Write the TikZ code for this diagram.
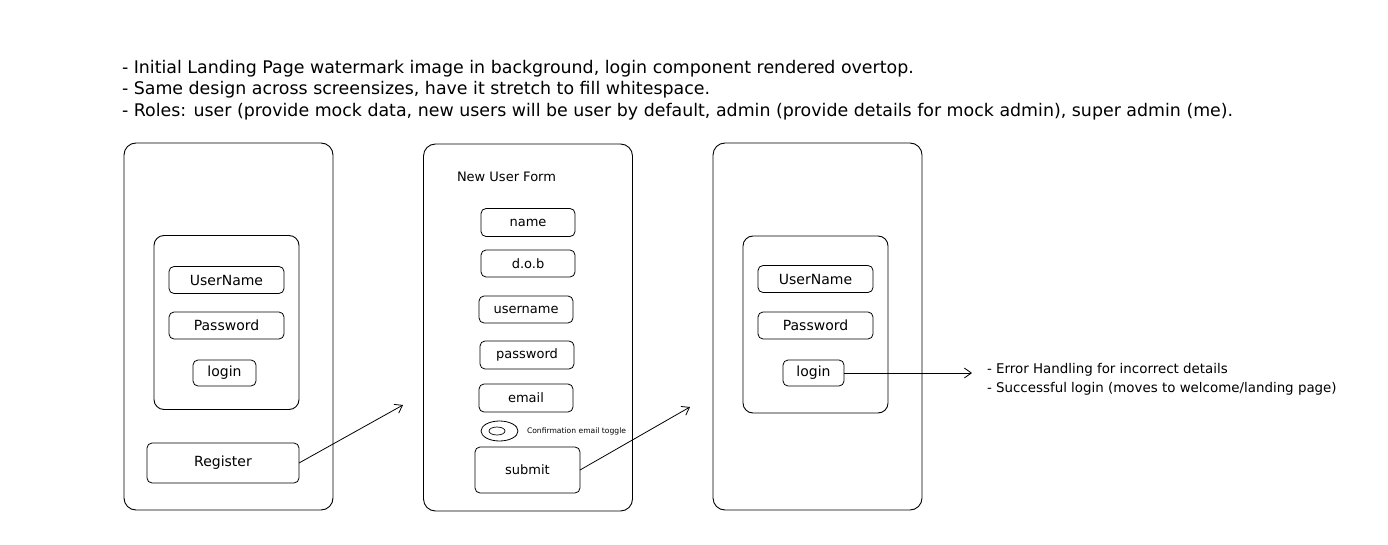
\documentclass[tikz,border=0pt]{standalone}
\usepackage{fontspec}
\setmainfont{DejaVu Sans}
\usetikzlibrary{positioning,arrows.meta,shapes.geometric}

\begin{document}
\begin{tikzpicture}[x=1pt, y=-1pt,
    every node/.style={inner sep=0pt, outer sep=0pt},
    screen/.style={rectangle, draw, rounded corners=12pt, line width=0.9pt, minimum width=209pt, minimum height=367pt},
    panel/.style={rectangle, draw, rounded corners=10pt, line width=0.9pt, minimum width=145pt, minimum height=174pt},
    field/.style={rectangle, draw, rounded corners=5pt, line width=0.8pt, minimum width=115pt, minimum height=27pt, font=\fontsize{14}{16}\selectfont},
    formfield/.style={field, minimum width=94pt, minimum height=28pt, font=\fontsize{13}{15}\selectfont},
    flow/.style={-{Straight Barb[length=7pt,width=10pt]}, line width=0.8pt}
]
    \useasboundingbox (0,0) rectangle (1388,545);

    \node[anchor=north west, align=left, font=\fontsize{17.4}{21.5}\selectfont] (notes) at (122,60)
        {- Initial Landing Page watermark image in background, login component rendered overtop.\\
         - Same design across screensizes, have it stretch to fill whitespace.\\
         - Roles: user (provide mock data, new users will be user by default, admin (provide details for mock admin), super admin (me).};

    % landing page
    \node[screen] (landing) at (228.5,326.5) {};
    \node[panel] (landing panel) at (226.5,322.5) {};
    \node[field] (landing user) at (226.5,280) {UserName};
    \node[field] (landing pass) at (226.5,325.5) {Password};
    \node[field, minimum width=63pt, minimum height=26pt] (landing login) at (224.5,373) {login};
    \node[field, minimum width=152pt, minimum height=40pt] (register) at (223,463) {Register};
    \coordinate (to form) at (403,405);
    \draw[flow] (register.east) -- (to form);

    % new user form
    \node[screen] (form) at (528,327.5) {};
    \node[anchor=west, font=\fontsize{13}{15}\selectfont] (form title) at (457,177) {New User Form};
    \node[formfield] (form name) at (528,222.5) {name};
    \node[formfield, minimum height=27pt] (form dob) at (528,263.5) {d.o.b};
    \node[formfield, minimum height=27pt] (form username) at (526,309.5) {username};
    \node[formfield] (form password) at (527,355) {password};
    \node[formfield] (form email) at (526,398) {email};
    \node[ellipse, draw, line width=0.8pt, minimum width=37pt, minimum height=20pt] (toggle) at (499.5,431) {};
    \node[ellipse, draw, line width=0.7pt, minimum width=16pt, minimum height=8pt] (toggle knob) at (497,431) {};
    \node[right=9pt of toggle, font=\fontsize{7.6}{9}\selectfont] (toggle label) {Confirmation email toggle};
    \node[formfield, minimum width=105pt, minimum height=46pt] (submit) at (527.5,470) {submit};
    \coordinate (to login) at (690,407);
    \draw[flow] (submit.east) -- (to login);

    % login page
    \node[screen] (login page) at (817.5,326.5) {};
    \node[panel, minimum height=177pt] (login panel) at (815.5,324.5) {};
    \node[field] (login user) at (815.5,279) {UserName};
    \node[field] (login pass) at (815.5,325.5) {Password};
    \node[field, minimum width=61pt, minimum height=26pt] (login button) at (813.5,373) {login};
    \coordinate (outcome) at (972,373);
    \draw[flow] (login button.east) -- (outcome);
    \node[right=15pt of outcome, anchor=north west, align=left, font=\fontsize{13.4}{19}\selectfont, yshift=10pt] (outcome notes)
        {- Error Handling for incorrect details\\- Successful login (moves to welcome/landing page)};
\end{tikzpicture}
\end{document}
